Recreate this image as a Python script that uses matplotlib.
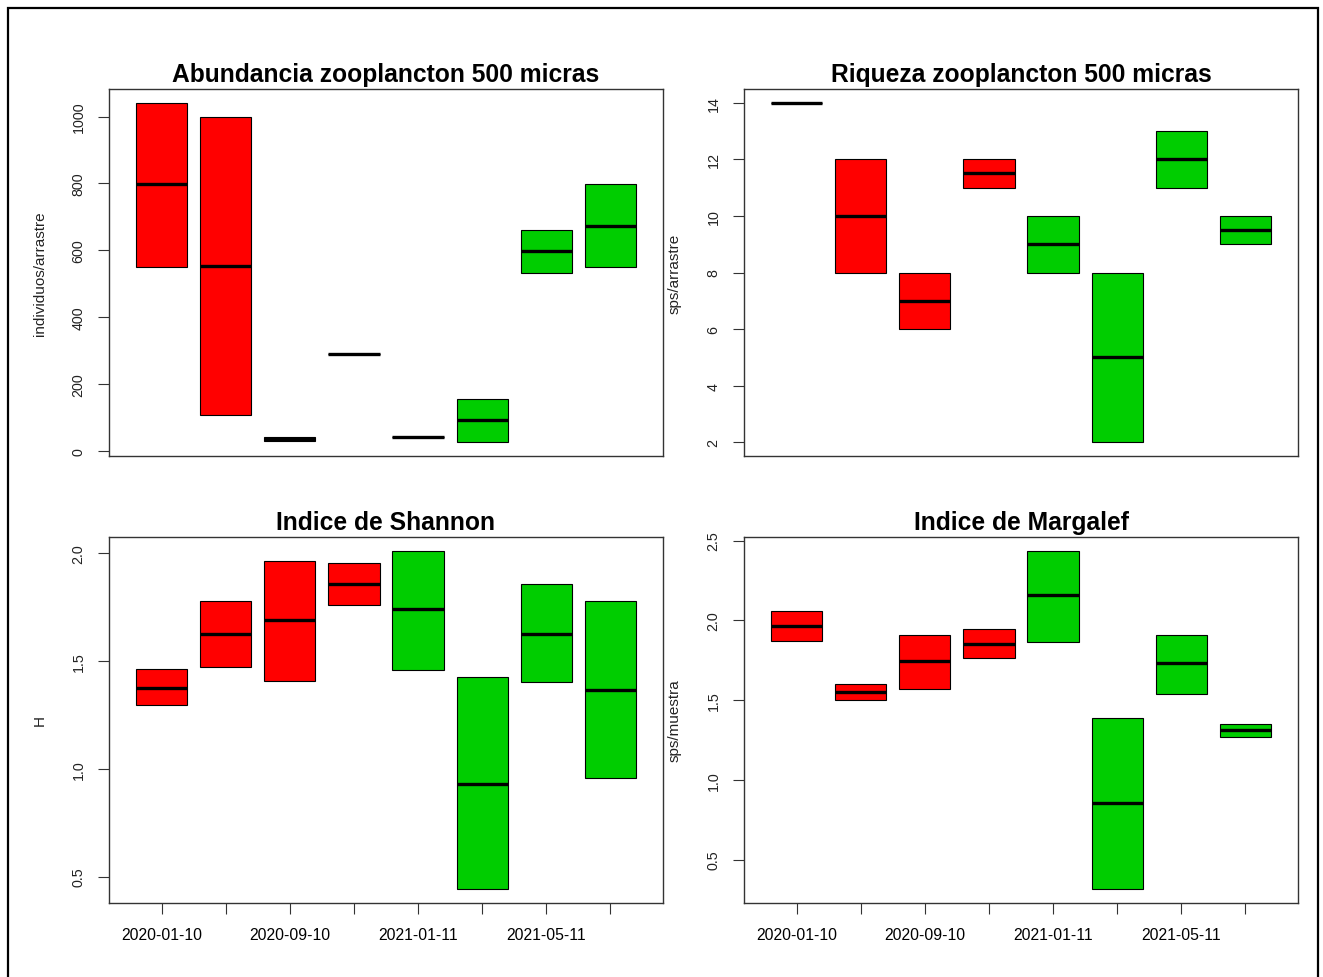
import matplotlib
matplotlib.use("Agg")
import matplotlib.pyplot as plt
from matplotlib.patches import Rectangle

plt.rcParams['font.family'] = ['Liberation Sans', 'DejaVu Sans']

# sampling dates (only every second one gets a label)
fechas = ['2020-01-10', '', '2020-09-10', '', '2021-01-11', '', '2021-05-11', '']
colores = ['#FF0000'] * 4 + ['#00CD00'] * 4

# abundance (individuos/arrastre): lower quartile, median, upper quartile
abund_q1 = [549, 108, 29, 291, 41, 25, 531, 549]
abund_med = [798, 552, 35, 291, 41, 91, 598, 673]
abund_q3 = [1042, 1000, 41, 291, 41, 154, 662, 798]

# richness (sps/arrastre)
riq_q1 = [14, 8, 6, 11, 8, 2, 11, 9]
riq_med = [14, 10, 7, 11.5, 9, 5, 12, 9.5]
riq_q3 = [14, 12, 8, 12, 10, 8, 13, 10]

# Shannon index H
shan_q1 = [1.295, 1.469, 1.406, 1.759, 1.458, 0.44, 1.401, 0.958]
shan_med = [1.376, 1.626, 1.687, 1.855, 1.739, 0.929, 1.626, 1.366]
shan_q3 = [1.464, 1.779, 1.964, 1.954, 2.011, 1.423, 1.855, 1.779]

# Margalef index
marg_q1 = [1.872, 1.502, 1.571, 1.761, 1.864, 0.313, 1.540, 1.271]
marg_med = [1.966, 1.551, 1.745, 1.849, 2.156, 0.856, 1.730, 1.315]
marg_q3 = [2.060, 1.598, 1.910, 1.943, 2.437, 1.390, 1.910, 1.352]

W, H = 1323, 978
fig = plt.figure(figsize=(W / 100, H / 100), dpi=100)

# outer frame around the whole device
fig.patches.append(Rectangle((8 / W, -0.05), (1318 - 8) / W, 1.05 - 9 / H,
                             transform=fig.transFigure, fill=False,
                             edgecolor='black', linewidth=1.6))


def px_axes(x0, y0, x1, y1):
    return fig.add_axes([x0 / W, 1 - y1 / H, (x1 - x0) / W, (y1 - y0) / H])


def caja(ax, q1, med, q3, titulo, ylab, yticks, fechas_on):
    n = len(med)
    xs = list(range(1, n + 1))
    ax.bar(xs, [b - a for a, b in zip(q1, q3)], bottom=q1, width=0.8,
           color=colores, edgecolor='black', linewidth=0.8, zorder=2)
    ax.hlines(med, [x - 0.4 for x in xs], [x + 0.4 for x in xs],
              colors='black', linewidth=2.4, zorder=3, capstyle='butt')
    lo, hi = min(q1), max(q3)
    pad = (hi - lo) * 0.04
    ax.set_ylim(lo - pad, hi + pad)
    ax.set_xlim(0.18, n + 0.82)
    ax.set_yticks(yticks)
    ax.tick_params(axis='y', length=8, width=0.8, color='#333333',
                   labelsize=10.3, labelcolor='#222222', pad=9,
                   labelrotation=90)
    for lab in ax.get_yticklabels():
        lab.set_va('center')
    if fechas_on:
        ax.set_xticks(xs)
        ax.set_xticklabels(fechas)
        ax.tick_params(axis='x', length=8, width=0.8, color='#333333',
                       labelsize=11.3, pad=9)
    else:
        ax.set_xticks([])
    for s in ax.spines.values():
        s.set_color('#333333')
        s.set_linewidth(1.0)
    ax.set_title(titulo, fontsize=17.7, fontweight='bold', pad=6)
    ax.text(-69 / 554, 0.5, ylab, transform=ax.transAxes, rotation=90,
            ha='center', va='center', fontsize=11, color='#222222')


ax1 = px_axes(109, 90, 663, 457)
caja(ax1, abund_q1, abund_med, abund_q3, 'Abundancia zooplancton 500 micras',
     'individuos/arrastre', [0, 200, 400, 600, 800, 1000], False)

ax2 = px_axes(744, 90, 1298, 457)
caja(ax2, riq_q1, riq_med, riq_q3, 'Riqueza zooplancton 500 micras',
     'sps/arrastre', [2, 4, 6, 8, 10, 12, 14], False)

ax3 = px_axes(109, 538, 663, 904)
caja(ax3, shan_q1, shan_med, shan_q3, 'Indice de Shannon', 'H',
     [0.5, 1.0, 1.5, 2.0], True)

ax4 = px_axes(744, 538, 1298, 904)
caja(ax4, marg_q1, marg_med, marg_q3, 'Indice de Margalef', 'sps/muestra',
     [0.5, 1.0, 1.5, 2.0, 2.5], True)

fig.savefig('out.png', dpi=100)
